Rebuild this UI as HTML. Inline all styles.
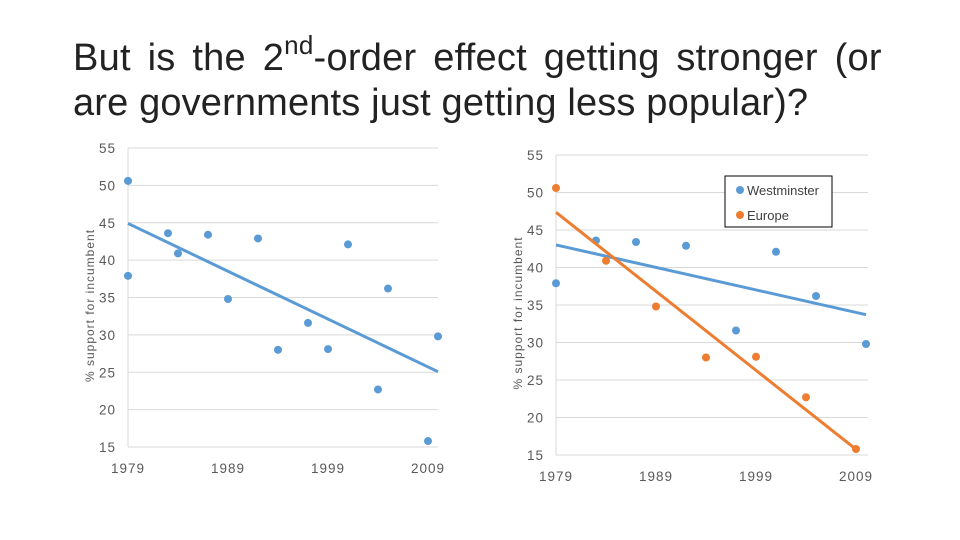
<!DOCTYPE html>
<html><head><meta charset="utf-8"><style>
body{margin:0;background:#fff;width:960px;height:540px;overflow:hidden;font-family:"Liberation Sans",sans-serif}
#title{position:absolute;left:73px;top:36px;font-size:38px;line-height:45px;color:#222;white-space:nowrap}
#l1{word-spacing:6px;letter-spacing:0.25px}
#l2{letter-spacing:0.15px}
sup{font-size:26px;vertical-align:16px;line-height:0}
svg{position:absolute;left:0;top:0}
</style></head><body>
<div id="title"><span id="l1">But is the 2<sup>nd</sup>-order effect getting stronger (or</span><br><span id="l2">are governments just getting less popular)?</span></div>
<svg id="chart" width="960" height="540"></svg>
<script>
const wYears=[1979,1983,1987,1992,1997,2001,2005,2010];
const wVals=[37.9,43.6,43.4,42.9,31.6,42.1,36.2,29.8];
const eYears=[1979,1984,1989,1994,1999,2004,2009];
const eVals=[50.6,40.9,34.8,28.0,28.1,22.7,15.8];
const yTicks=[15,20,25,30,35,40,45,50,55];
const xTicks=[1979,1989,1999,2009];
const svg=document.getElementById('chart');
const NS='http://www.w3.org/2000/svg';
function mk(t,a,p){const e=document.createElementNS(NS,t);for(const k in a)e.setAttribute(k,a[k]);(p||svg).appendChild(e);return e;}
function fit(xs,ys){const n=xs.length;let mx=0,my=0;xs.forEach((x,i)=>{mx+=x;my+=ys[i];});mx/=n;my/=n;let sxy=0,sxx=0;xs.forEach((x,i)=>{sxy+=(x-mx)*(ys[i]-my);sxx+=(x-mx)*(x-mx);});const b=sxy/sxx;return x=>my+b*(x-mx);}
function chart(cfg){
 const g=mk('g',{});
 
 
 const X=v=>cfg.x0+(v-1979)*10, Y=v=>cfg.yb-(v-15)*cfg.sy;
 yTicks.forEach(t=>{
  if(t>15){const l=mk('line',{x1:cfg.x0,x2:cfg.xr,y1:Y(t),y2:Y(t),stroke:'#d9d9d9','stroke-width':1},g);
  }
  const tx=mk('text',{x:cfg.x0-12,y:Y(t)+5,'text-anchor':'end','font-size':13.5,fill:'#595959','letter-spacing':'1'},g);tx.textContent=t;
  
 });
 xTicks.forEach(t=>{const tx=mk('text',{x:X(t),y:cfg.yb+26,'text-anchor':'middle','font-size':13.5,fill:'#595959','letter-spacing':'1'},g);tx.textContent=t;
  });
 mk('line',{x1:cfg.x0,x2:cfg.x0,y1:Y(55),y2:cfg.yb,stroke:'#d9d9d9'},g);
 mk('line',{x1:cfg.x0,x2:cfg.xr,y1:cfg.yb,y2:cfg.yb,stroke:'#d9d9d9'},g);
 const at=mk('text',{transform:`translate(${cfg.x0-34},${(Y(55)+cfg.yb)/2+8}) rotate(-90)`,'text-anchor':'middle','font-size':12,fill:'#595959','letter-spacing':'1'},g);
 at.textContent='% support for incumbent';
 
 cfg.series.forEach(s=>{
  const f=fit(s.xs,s.ys);const a=Math.min(...s.xs),b=Math.max(...s.xs);
  const tl=mk('line',{x1:X(a),y1:Y(f(a)),x2:X(b),y2:Y(f(b)),stroke:s.c,'stroke-width':3},g);
  
  s.xs.forEach((x,i)=>{const c=mk('circle',{cx:X(x),cy:Y(s.ys[i]),r:4,fill:s.pc},g);
   });
 });
}
const allX=wYears.concat(eYears), allY=wVals.concat(eVals);
chart({name:'combined-chart',x0:128,xr:438,yb:447,sy:7.475,series:[{n:'all',xs:allX,ys:allY,c:'#5b9bd5',pc:'#5b9bd5'}]});
chart({name:'split-chart',x0:556,xr:868,yb:455,sy:7.5,series:[{n:'westminster',xs:wYears,ys:wVals,c:'#5b9bd5',pc:'#5b9bd5'},{n:'europe',xs:eYears,ys:eVals,c:'#ed7d31',pc:'#ed7d31'}]});
const lg=mk('g',{});


mk('rect',{x:725,y:176,width:107,height:51,fill:'#fff',stroke:'#000','stroke-width':1},lg);
[['Westminster','#5b9bd5',190],['Europe','#ed7d31',215]].forEach(e=>{
 const c=mk('circle',{cx:740,cy:e[2],r:4,fill:e[1]},lg);
 
 const t=mk('text',{x:747,y:e[2]+5,'font-size':13,fill:'#404040'},lg);t.textContent=e[0];
 
});
</script>
</body></html>
